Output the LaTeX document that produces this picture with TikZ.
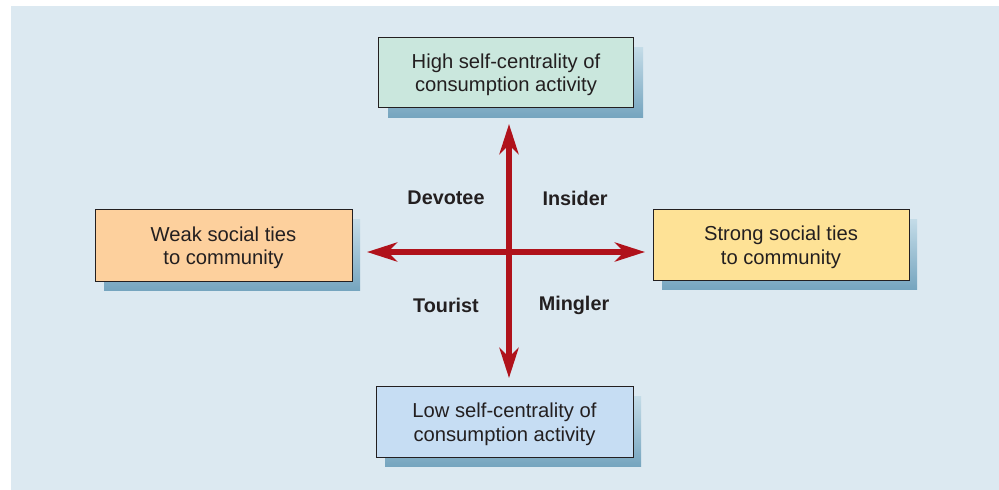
\documentclass[tikz,border=0pt]{standalone}
\usepackage{fontspec}
\setmainfont{Liberation Sans}
\usetikzlibrary{arrows.meta}
\definecolor{bgblue}{HTML}{DCE9F1}
\definecolor{shadowdark}{HTML}{76A5BF}
\definecolor{shadowlight}{HTML}{C4DCE8}
\definecolor{topfill}{HTML}{CAE7DD}
\definecolor{leftfill}{HTML}{FDD09D}
\definecolor{rightfill}{HTML}{FEE296}
\definecolor{botfill}{HTML}{C6DDF3}
\definecolor{axisred}{HTML}{B0121B}
\definecolor{txt}{HTML}{231F20}
\tikzset{
  x=1pt, y=-1pt,
  boxnode/.style={draw=txt, line width=1pt, inner sep=0pt},
  boxtext/.style={text=txt, align=center, inner sep=0pt,
    font=\fontsize{20.2}{23.5}\selectfont, yshift=-3pt},
  shadowbox/.style={top color=shadowlight, bottom color=shadowdark, draw=none},
  axisarrow/.style={draw=axisred, line width=6pt,
    {Stealth[length=30pt,width=19pt,inset=9pt]}-{Stealth[length=30pt,width=19pt,inset=9pt]}},
  quadlabel/.style={text=txt, font=\bfseries\fontsize{19.8}{22}\selectfont, inner sep=0pt}
}
\begin{document}
\begin{tikzpicture}
\useasboundingbox (0,0) rectangle (999,490);
\fill[bgblue] (11,6) rectangle (999,490);
% shadows
\shade[shadowbox] (388,47) rectangle (643,117);
\shade[shadowbox] (104,219) rectangle (360,290);
\shade[shadowbox] (662,219) rectangle (917,289);
\shade[shadowbox] (385,396) rectangle (641,466);
% boxes
\node[boxnode, fill=topfill, minimum width=255pt, minimum height=70pt,
  label={[boxtext]center:High self-centrality of\\consumption activity}] (high) at (506,72) {};
\node[boxnode, fill=leftfill, minimum width=257pt, minimum height=72pt,
  label={[boxtext]center:Weak social ties\\to community}] (weak) at (223.5,245) {};
\node[boxnode, fill=rightfill, minimum width=256pt, minimum height=71pt,
  label={[boxtext]center:Strong social ties\\to community}] (strong) at (781,244.5) {};
\node[boxnode, fill=botfill, minimum width=257pt, minimum height=71pt,
  label={[boxtext]center:Low self-centrality of\\consumption activity}] (low) at (504.5,421.5) {};
% axes
\coordinate (vt) at (509,124);
\coordinate (vb) at (509,378);
\coordinate (hl) at (367,252);
\coordinate (hr) at (645,252);
\draw[axisarrow] (vt) -- (vb);
\draw[axisarrow] (hl) -- (hr);
% quadrant labels
\node[quadlabel] (devotee) at (446,198) {Devotee};
\node[quadlabel] (insider) at (575,198) {Insider};
\node[quadlabel] (tourist) at (446,305) {Tourist};
\node[quadlabel] (mingler) at (574,305) {Mingler};
\end{tikzpicture}
\end{document}
